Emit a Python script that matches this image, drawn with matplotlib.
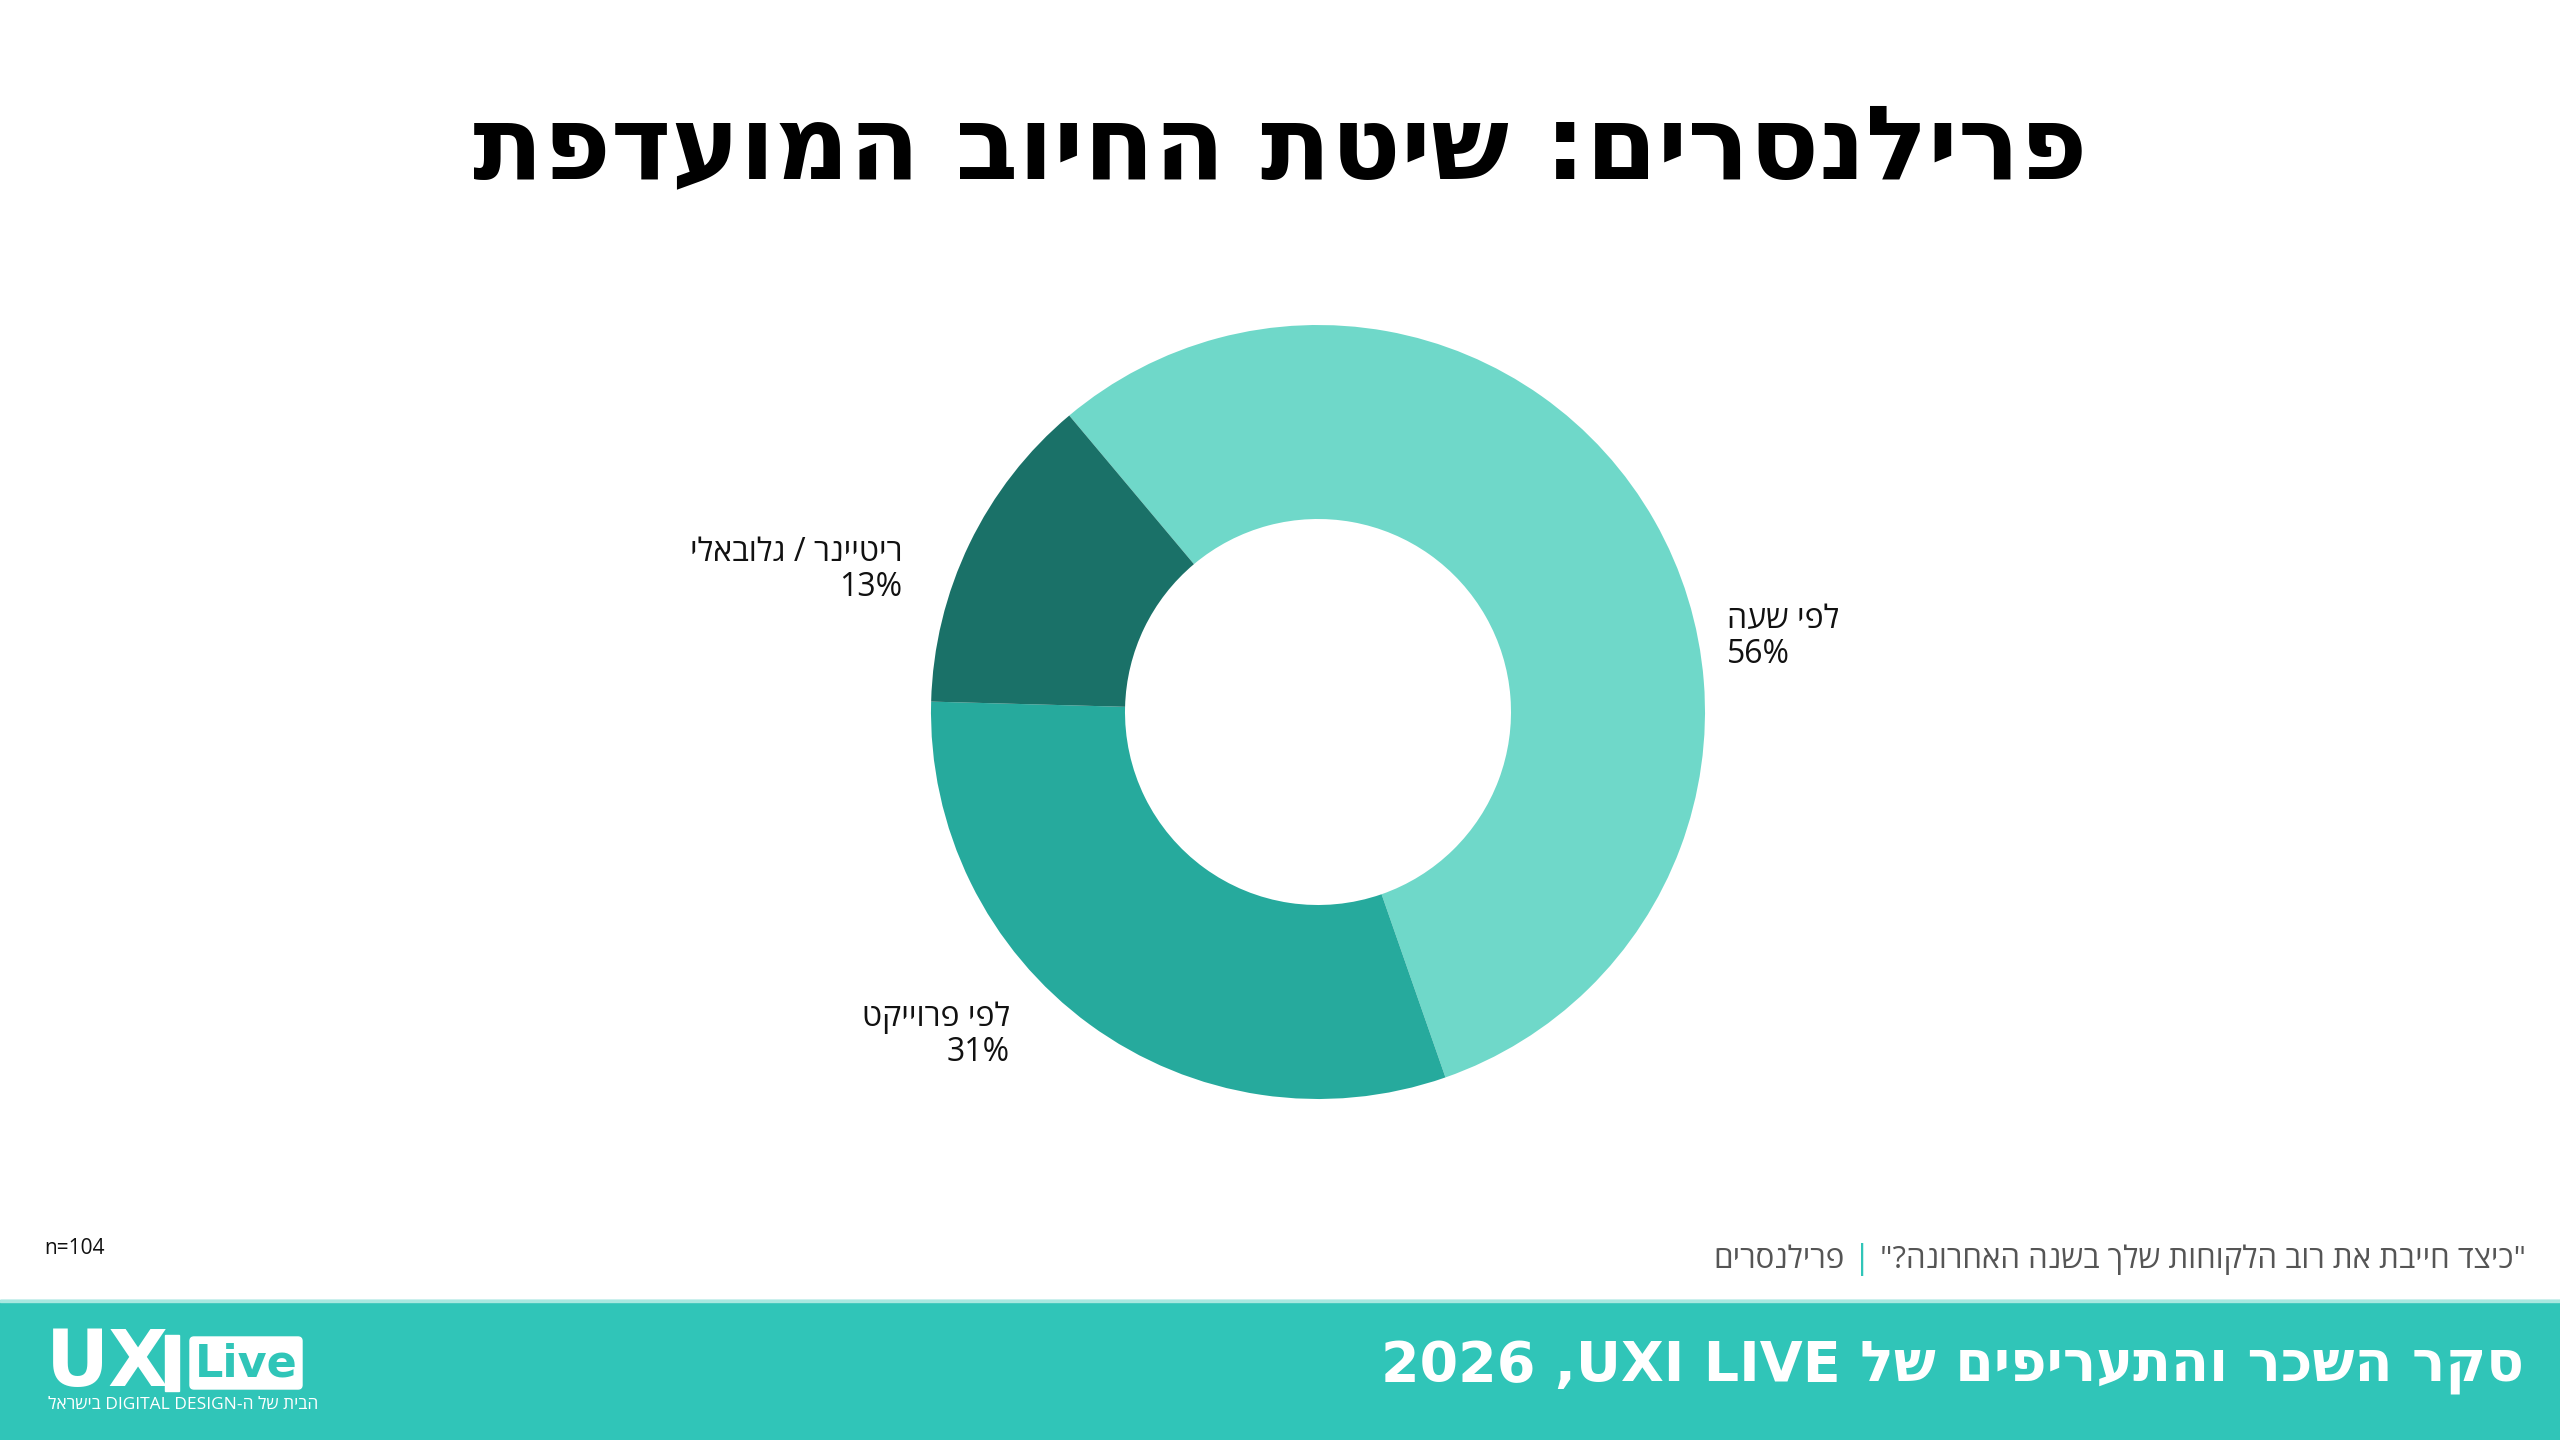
import matplotlib.pyplot as plt
from matplotlib.patches import Rectangle, FancyBboxPatch

# נתונים (n=104)
labels = ["לפי שעה", "לפי פרוייקט", "ריטיינר / גלובאלי"]
counts = [58, 32, 14]
colors = ["#6FD8C9", "#26AA9D", "#1A7168"]

title = "פרילנסרים: שיטת החיוב המועדפת"
question = '"כיצד חייבת את רוב הלקוחות שלך בשנה האחרונה?"'
group = "פרילנסרים"
footer_heb = "סקר השכר והתעריפים של"
footer_ltr = "2026 ,UXI LIVE "
tagline = "לארשיב DIGITAL DESIGN-ה לש תיבה"
n_text = "n=104"

TEAL = "#30C5B8"
FONT = ['Open Sans', 'DejaVu Sans']
HEAVY = ['DejaVu Sans']


def heb(s):
    # matplotlib has no bidi: Hebrew is drawn by reversing characters
    return s[::-1]


def Y(y):
    # image rows (top down) to data y (bottom up)
    return 1440 - y


fig = plt.figure(figsize=(25.6, 14.4), dpi=100)
ax = fig.add_axes([0, 0, 1, 1])

cx, cy, r = 1318, Y(712), 387
wedges, _ = ax.pie(counts, colors=colors, startangle=130, counterclock=False,
                   center=(cx, cy), radius=r,
                   wedgeprops=dict(width=194, linewidth=0))
ax.set_xlim(0, 2560)
ax.set_ylim(0, 1440)
ax.set_aspect('equal')
ax.axis('off')

# תוויות
total = sum(counts)
lab_pos = [(1727, 637, 'left'), (1010, 1035, 'right'), (902, 570, 'right')]
for lab, c, (x, y, ha) in zip(labels, counts, lab_pos):
    pct = round(100 * c / total)
    ax.text(x, Y(y), heb(lab) + "\n" + f"{pct}%", ha=ha, va='center',
            fontsize=23, family=FONT, color='#111111', linespacing=1.05)

# כותרת
ax.text(1280, Y(150), heb(title), ha='center', va='center', fontsize=74,
        fontweight='heavy', family=HEAVY, color='black')

# שאלה
t1 = ax.text(2526, Y(1260), heb(question), ha='right', va='center',
             fontsize=22.5, family=FONT, color='#555555')
t2 = ax.annotate("|", xy=(0, 0.5), xycoords=t1, xytext=(-6, 0),
                 textcoords='offset points', ha='right', va='center',
                 fontsize=24, family=FONT, color=TEAL)
ax.annotate(heb(group), xy=(0, 0.5), xycoords=t2, xytext=(-6, 0),
            textcoords='offset points', ha='right', va='center',
            fontsize=22.5, family=FONT, color='#555555')

ax.text(44, Y(1249), n_text, ha='left', va='center', fontsize=15,
        family=FONT, color='#111111')

# פס תחתון
ax.add_patch(Rectangle((0, 0), 2560, Y(1300), color=TEAL, zorder=0))
ax.add_patch(Rectangle((0, Y(1302)), 2560, 2, color='#A8E8E0', zorder=1))

ax.text(2524, Y(1368), footer_ltr + heb(footer_heb),
        ha='right', va='center', fontsize=40, fontweight='heavy',
        family=HEAVY, color='white')

# לוגו
ax.text(46, Y(1364), "UX", ha='left', va='center', fontsize=56,
        fontweight='heavy', family=HEAVY, color='white')
ax.add_patch(Rectangle((165, Y(1391)), 14, 56, color='white'))
ax.add_patch(FancyBboxPatch((190, Y(1389)), 112, 52,
                            boxstyle='round,pad=0,rounding_size=4',
                            color='white'))
ax.text(246, Y(1364), "Live", ha='center', va='center', fontsize=32,
        fontweight='bold', family=HEAVY, color=TEAL)
ax.text(48, Y(1405), tagline, ha='left', va='center', fontsize=12.5,
        family=FONT, color='white')

fig.savefig("out.png", dpi=100)
